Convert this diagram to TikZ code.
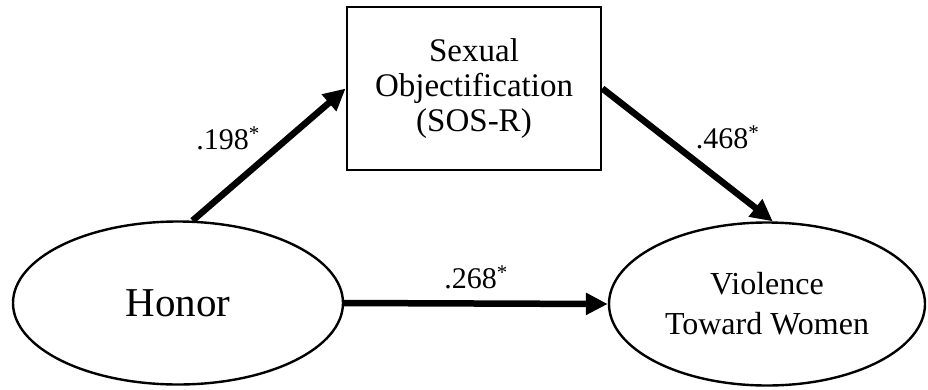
\documentclass[tikz,border=0pt]{standalone}
\usepackage{fontspec}
\setmainfont{Liberation Serif}
\usetikzlibrary{arrows.meta,shapes.geometric,positioning}

\begin{document}
\begin{tikzpicture}[
    x=1pt, y=-1pt,
    >={Triangle[length=22pt,width=21pt]},
    latent/.style={ellipse, draw, line width=2.4pt, inner sep=0pt, align=center},
    observed/.style={rectangle, draw, line width=2.8pt, inner sep=0pt, align=center,
                minimum width=254pt, minimum height=163pt,
                font=\fontsize{33}{35}\selectfont},
    coef/.style={inner sep=0pt, font=\fontsize{30}{30}\selectfont},
    arr/.style={->, line width=6.5pt}
  ]
  \useasboundingbox (0,0) rectangle (928,389);
  \node[latent, minimum width=330pt, minimum height=163pt,
        font=\fontsize{41}{45}\selectfont] (h) at (178,303) {Honor};
  \node[observed] (s) at (474,88.5) {Sexual\\Objectification\\(SOS-R)};
  \node[latent, minimum width=316pt, minimum height=163pt,
        font=\fontsize{32}{40}\selectfont] (v) at (767,304) {Violence\\Toward Women};

  \draw[arr] (h.80) -- node[coef, pos=0.5, anchor=south east, xshift=-6pt, yshift=1pt] {.198\textsuperscript{*}} (s.west);
  \draw[arr] (s.east) -- node[coef, pos=0.5, anchor=south west, xshift=5pt, yshift=3pt] {.468\textsuperscript{*}} (v.86);
  \draw[arr] (h.east) -- node[coef, above=11pt] {.268\textsuperscript{*}} (v.west);
\end{tikzpicture}
\end{document}
